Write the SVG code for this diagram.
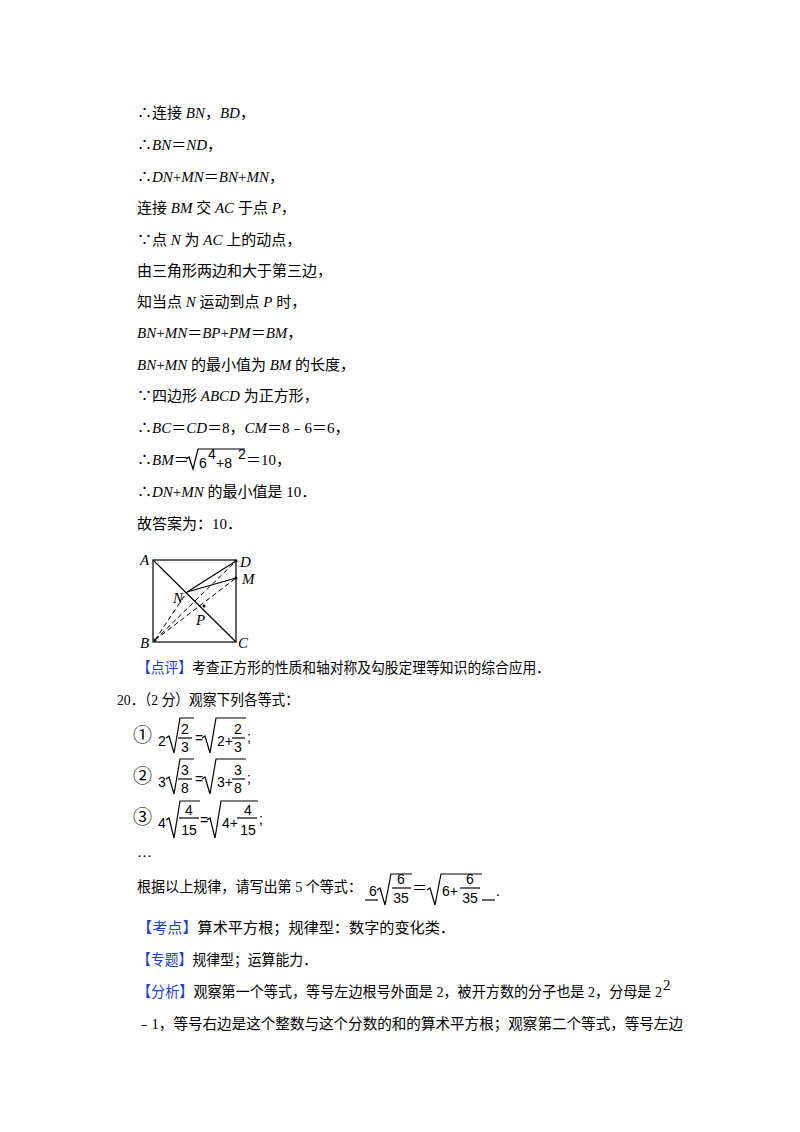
<svg xmlns="http://www.w3.org/2000/svg" width="800" height="1132" viewBox="0 0 800 1132">
<style>
text{font-family:"Liberation Serif","Noto Sans CJK SC",serif;font-size:15px;fill:#000}
.i{font-style:italic}
.b{fill:#1a3fd0}
.m{font-family:"Liberation Sans","Noto Sans CJK SC",sans-serif;font-size:14px}
.c{font-family:"Noto Sans CJK SC",sans-serif;font-size:19px}
.r{fill:none;stroke:#000;stroke-width:1.2}
.l{stroke:#000;stroke-width:1.2;fill:none}
.d{stroke:#000;stroke-width:1;stroke-dasharray:5,3;fill:none}
</style>
<rect width="800" height="1132" fill="#fff"/>
<g id="text">
<text x="137" y="118">∴连接 <tspan class="i">BN</tspan>，<tspan class="i">BD</tspan>，</text>
<text x="137" y="150">∴<tspan class="i">BN</tspan>＝<tspan class="i">ND</tspan>，</text>
<text x="137" y="182">∴<tspan class="i">DN</tspan>+<tspan class="i">MN</tspan>＝<tspan class="i">BN</tspan>+<tspan class="i">MN</tspan>，</text>
<text x="137" y="213">连接 <tspan class="i">BM</tspan> 交 <tspan class="i">AC</tspan> 于点 <tspan class="i">P</tspan>，</text>
<text x="137" y="245">∵点 <tspan class="i">N</tspan> 为 <tspan class="i">AC</tspan> 上的动点，</text>
<text x="137" y="276">由三角形两边和大于第三边，</text>
<text x="137" y="307">知当点 <tspan class="i">N</tspan> 运动到点 <tspan class="i">P</tspan> 时，</text>
<text x="137" y="338"><tspan class="i">BN</tspan>+<tspan class="i">MN</tspan>＝<tspan class="i">BP</tspan>+<tspan class="i">PM</tspan>＝<tspan class="i">BM</tspan>，</text>
<text x="137" y="370"><tspan class="i">BN</tspan>+<tspan class="i">MN</tspan> 的最小值为 <tspan class="i">BM</tspan> 的长度，</text>
<text x="137" y="401">∵四边形 <tspan class="i">ABCD</tspan> 为正方形，</text>
<text x="137" y="433">∴<tspan class="i">BC</tspan>＝<tspan class="i">CD</tspan>＝8，<tspan class="i">CM</tspan>＝8﹣6＝6，</text>
<text x="137" y="465">∴<tspan class="i">BM</tspan>＝</text>
<path class="r" d="M186,459 L189,457 L193,469 L198,449 L245,449"/>
<text class="m" x="199" y="468">6</text><text class="m" x="208" y="459" font-size="11">4</text>
<text class="m" x="216" y="468">+8</text><text class="m" x="238" y="459" font-size="11">2</text>
<text x="246" y="465">＝10，</text>
<text x="137" y="497">∴<tspan class="i">DN</tspan>+<tspan class="i">MN</tspan> 的最小值是 10．</text>
<text x="137" y="529">故答案为：10．</text>
<text x="137" y="673" textLength="413" lengthAdjust="spacingAndGlyphs"><tspan class="b">【点评】</tspan>考查正方形的性质和轴对称及勾股定理等知识的综合应用．</text>
<text x="117" y="705" textLength="182" lengthAdjust="spacingAndGlyphs">20．（2 分）观察下列各等式：</text>
<text x="137" y="857">…</text>
<text x="137" y="892" textLength="225" lengthAdjust="spacingAndGlyphs">根据以上规律，请写出第 5 个等式：</text>
<text x="137" y="933" textLength="318" lengthAdjust="spacingAndGlyphs"><tspan class="b">【考点】</tspan>算术平方根；规律型：数字的变化类．</text>
<text x="137" y="965" textLength="180" lengthAdjust="spacingAndGlyphs"><tspan class="b">【专题】</tspan>规律型；运算能力．</text>
<text x="137" y="997" textLength="525" lengthAdjust="spacingAndGlyphs"><tspan class="b">【分析】</tspan>观察第一个等式，等号左边根号外面是 2，被开方数的分子也是 2，分母是 2</text>
<text x="663" y="990" font-size="11">2</text>
<text x="137" y="1029" textLength="546" lengthAdjust="spacingAndGlyphs">﹣1，等号右边是这个整数与这个分数的和的算术平方根；观察第二个等式，等号左边</text>
</g>
<g id="formulas">
<text class="c" x="133" y="742">①</text>
<text class="m" x="158" y="746">2</text>
<path class="r" d="M166,738 L169,736 L174,753 L180,718 L194,718"/>
<text class="m" x="185" y="734" text-anchor="middle">2</text><line class="l" x1="178" y1="738" x2="192" y2="738"/><text class="m" x="185" y="752" text-anchor="middle">3</text>
<text class="m" x="195" y="743">=</text>
<path class="r" d="M202,738 L205,736 L210,753 L216,718 L246,718"/>
<text class="m" x="217" y="746">2+</text>
<text class="m" x="238" y="734" text-anchor="middle">2</text><line class="l" x1="232" y1="738" x2="245" y2="738"/><text class="m" x="238" y="752" text-anchor="middle">3</text>
<text class="m" x="247" y="742">;</text>

<text class="c" x="133" y="783">②</text>
<text class="m" x="158" y="787">3</text>
<path class="r" d="M166,779 L169,777 L174,794 L180,759 L194,759"/>
<text class="m" x="185" y="775" text-anchor="middle">3</text><line class="l" x1="178" y1="779" x2="192" y2="779"/><text class="m" x="185" y="793" text-anchor="middle">8</text>
<text class="m" x="195" y="784">=</text>
<path class="r" d="M202,779 L205,777 L210,794 L216,759 L246,759"/>
<text class="m" x="217" y="787">3+</text>
<text class="m" x="238" y="775" text-anchor="middle">3</text><line class="l" x1="232" y1="779" x2="245" y2="779"/><text class="m" x="238" y="793" text-anchor="middle">8</text>
<text class="m" x="247" y="783">;</text>

<text class="c" x="133" y="824">③</text>
<text class="m" x="158" y="828">4</text>
<path class="r" d="M166,820 L169,818 L174,838 L180,801 L200,801"/>
<text class="m" x="189" y="815" text-anchor="middle">4</text><line class="l" x1="179" y1="818" x2="199" y2="818"/><text class="m" x="189" y="835" text-anchor="middle">15</text>
<text class="m" x="200" y="825">=</text>
<path class="r" d="M207,820 L210,818 L215,838 L221,801 L258,801"/>
<text class="m" x="222" y="828" font-size="12">4+</text>
<text class="m" x="248" y="815" text-anchor="middle">4</text><line class="l" x1="237" y1="818" x2="257" y2="818"/><text class="m" x="248" y="835" text-anchor="middle">15</text>
<text class="m" x="259" y="824">;</text>

<line class="l" x1="365" y1="900" x2="378" y2="900" stroke-width="1"/>
<text class="m" x="369" y="896">6</text>
<path class="r" d="M377,890 L380,888 L385,905 L391,874 L412,874"/>
<text class="m" x="401" y="884" text-anchor="middle">6</text><line class="l" x1="392" y1="888" x2="411" y2="888" stroke-width="1"/><text class="m" x="401" y="903" text-anchor="middle">35</text>
<text x="412" y="893">＝</text>
<path class="r" d="M427,890 L430,888 L435,905 L441,874 L482,874"/>
<text class="m" x="442" y="896">6+</text>
<text class="m" x="470" y="884" text-anchor="middle">6</text><line class="l" x1="460" y1="888" x2="480" y2="888" stroke-width="1"/><text class="m" x="470" y="903" text-anchor="middle">35</text>
<line class="l" x1="482" y1="900" x2="495" y2="900" stroke-width="1"/>
<text x="496" y="896">.</text>
</g>
<g id="figure">
<rect class="l" x="153" y="560" width="83" height="82"/>
<line class="l" x1="153" y1="560" x2="236" y2="642"/>
<line class="l" x1="187" y1="592" x2="236" y2="561"/>
<line class="l" x1="187" y1="592" x2="236" y2="578"/>
<line class="d" x1="155" y1="640" x2="236" y2="561"/>
<line class="d" x1="155" y1="640" x2="236" y2="578"/>
<line class="d" x1="155" y1="640" x2="187" y2="592"/>
<circle cx="236" cy="561" r="1.5"/><circle cx="236" cy="578" r="1.5"/><circle cx="204" cy="606" r="1.5"/><circle cx="155" cy="640" r="1.5"/>
<text class="i" x="140" y="565" font-size="13">A</text>
<text class="i" x="240" y="567" font-size="14">D</text>
<text class="i" x="242" y="584" font-size="13">M</text>
<text class="i" x="173" y="603" font-size="13">N</text>
<text class="i" x="196" y="625" font-size="14">P</text>
<text class="i" x="140" y="648" font-size="13">B</text>
<text class="i" x="238" y="648" font-size="14">C</text>
</g>
</svg>
